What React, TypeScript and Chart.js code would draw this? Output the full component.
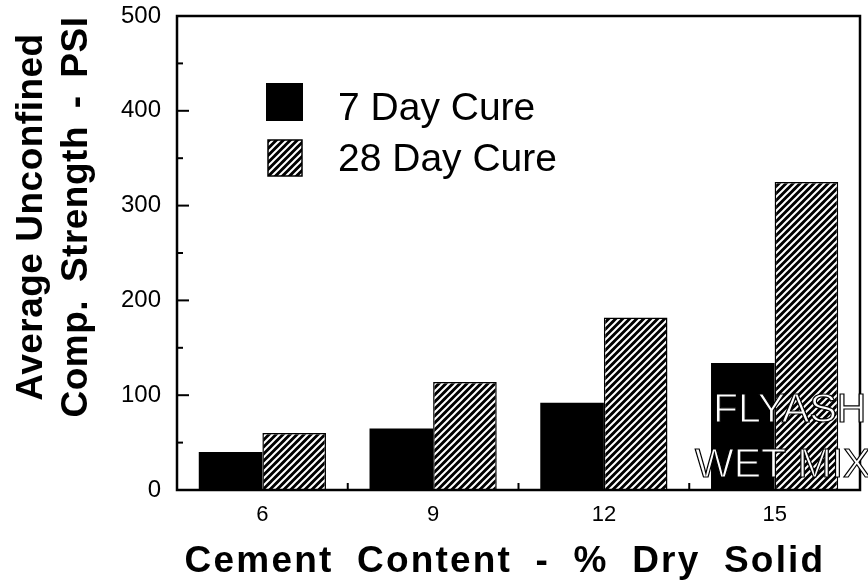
import React, { useEffect, useRef } from "react";
import { Chart, registerables } from "chart.js";

Chart.register(...registerables);

const categories = ["6", "9", "12", "15"];
const cure7Day = [40, 65, 92, 134];
const cure28Day = [60, 114, 182, 325];
const seriesLabels = ["7 Day Cure", "28 Day Cure"];
const yTitleLines = ["Average Unconfined", "Comp. Strength - PSI"];
const xTitle = "Cement Content - % Dry Solid";
const noteLines = ["FLYASH", "WET MIX"];

const FONT = "'Liberation Sans', Arial, Helvetica, sans-serif";

function makeHatch(): CanvasPattern | string {
  const c = document.createElement("canvas");
  const p = 7;
  c.width = p;
  c.height = p;
  const g = c.getContext("2d");
  if (!g) return "#000";
  g.fillStyle = "#000";
  g.fillRect(0, 0, p, p);
  g.strokeStyle = "#fff";
  g.lineWidth = 2;
  g.lineCap = "square";
  g.beginPath();
  g.moveTo(-2, p + 2);
  g.lineTo(p + 2, -2);
  g.moveTo(-2, 2);
  g.lineTo(2, -2);
  g.moveTo(p - 2, p + 2);
  g.lineTo(p + 2, p - 2);
  g.stroke();
  return g.createPattern(c, "repeat") || "#000";
}

export default function App() {
  const ref = useRef<HTMLCanvasElement | null>(null);

  useEffect(() => {
    const canvas = ref.current;
    if (!canvas) return;
    const hatch = makeHatch();

    const decor = {
      id: "decor",
      afterDraw(chart: any) {
        const ctx = chart.ctx as CanvasRenderingContext2D;
        const area = chart.chartArea;
        const ys = chart.scales.y;
        const xs = chart.scales.x;
        ctx.save();
        // frame
        ctx.strokeStyle = "#000";
        ctx.lineWidth = 2.5;
        ctx.strokeRect(area.left, area.top, area.right - area.left, area.bottom - area.top);
        // y ticks inward
        ctx.lineWidth = 2;
        ys.ticks.forEach((t: any) => {
          const v = t.value;
          if (v <= ys.min || v >= ys.max) return;
          const y = ys.getPixelForValue(v);
          const len = v % 100 === 0 ? 12 : 6;
          ctx.beginPath();
          ctx.moveTo(area.left, y);
          ctx.lineTo(area.left + len, y);
          ctx.stroke();
        });
        // x boundary ticks inward
        for (let i = 0; i < categories.length - 1; i++) {
          const x = (xs.getPixelForValue(i) + xs.getPixelForValue(i + 1)) / 2;
          ctx.beginPath();
          ctx.moveTo(x, area.bottom);
          ctx.lineTo(x, area.bottom - 7);
          ctx.stroke();
        }
        // y title
        ctx.fillStyle = "#000";
        ctx.font = `bold 37px ${FONT}`;
        ctx.textAlign = "center";
        ctx.textBaseline = "alphabetic";
        (ctx as any).letterSpacing = "0.5px";
        const yCenter = 217;
        const baseX = [42, 87];
        yTitleLines.forEach((line, i) => {
          ctx.save();
          ctx.translate(baseX[i], yCenter);
          ctx.rotate(-Math.PI / 2);
          (ctx as any).wordSpacing = i === 1 ? "7px" : "0px";
          ctx.fillText(line, 0, 0);
          ctx.restore();
        });
        // x title
        ctx.font = `bold 37px ${FONT}`;
        (ctx as any).letterSpacing = "2.2px";
        (ctx as any).wordSpacing = "11px";
        ctx.textAlign = "center";
        ctx.fillText(xTitle, 505, 572);
        (ctx as any).letterSpacing = "0px";
        (ctx as any).wordSpacing = "0px";
        // legend
        const ds = chart.data.datasets;
        ctx.fillStyle = ds[0].backgroundColor;
        ctx.fillRect(266, 83, 37, 38);
        ctx.fillStyle = ds[1].backgroundColor;
        ctx.fillRect(268, 140, 34, 36);
        ctx.lineWidth = 1.5;
        ctx.strokeRect(268, 140, 34, 36);
        ctx.fillStyle = "#000";
        ctx.font = `39px ${FONT}`;
        ctx.textAlign = "left";
        ctx.fillText(seriesLabels[0], 338, 120);
        ctx.fillText(seriesLabels[1], 338, 171);
        // outlined note
        ctx.font = `41px ${FONT}`;
        ctx.fillStyle = "#fff";
        ctx.strokeStyle = "#000";
        ctx.lineWidth = 1.2;
        ctx.textAlign = "left";
        const noteX = [713, 695];
        const noteY = [422, 477];
        noteLines.forEach((line, i) => {
          ctx.fillText(line, noteX[i], noteY[i]);
          ctx.strokeText(line, noteX[i], noteY[i]);
        });
        ctx.restore();
      },
    };

    const chart = new Chart(canvas, {
      type: "bar",
      data: {
        labels: categories,
        datasets: [
          {
            label: seriesLabels[0],
            data: cure7Day,
            backgroundColor: "#000",
            borderWidth: 0,
          },
          {
            label: seriesLabels[1],
            data: cure28Day,
            backgroundColor: hatch as any,
            borderColor: "#000",
            borderWidth: 1.5,
          },
        ],
      },
      options: {
        responsive: false,
        animation: false,
        layout: { padding: { left: 0, top: 16, right: 8, bottom: 0 } },
        datasets: { bar: { categoryPercentage: 0.745, barPercentage: 1 } },
        plugins: {
          legend: { display: false },
          tooltip: { enabled: false },
          title: { display: false },
        },
        scales: {
          x: {
            grid: { display: false, drawTicks: false },
            border: { display: false },
            ticks: {
              color: "#000",
              font: { family: FONT, size: 22 },
              padding: 12,
              maxRotation: 0,
            },
            afterFit(scale: any) {
              scale.height = 92;
              scale.paddingLeft = 0;
              scale.paddingRight = 0;
            },
          },
          y: {
            min: 0,
            max: 500,
            grid: { display: false, drawTicks: false },
            border: { display: false },
            ticks: {
              stepSize: 50,
              autoSkip: false,
              color: "#000",
              font: { family: FONT, size: 24 },
              padding: 16,
              callback: (v: any) => (Number(v) % 100 === 0 ? String(v) : ""),
            },
            afterFit(scale: any) {
              scale.width = 177;
              scale.paddingTop = 0;
              scale.paddingBottom = 0;
            },
          },
        },
      },
      plugins: [decor],
    });

    return () => chart.destroy();
  }, []);

  return (
    <div style={{ position: "fixed", left: 0, top: 0, width: 868, height: 582, background: "#fff" }}>
      <canvas ref={ref} width={868} height={582} style={{ display: "block" }} />
    </div>
  );
}
